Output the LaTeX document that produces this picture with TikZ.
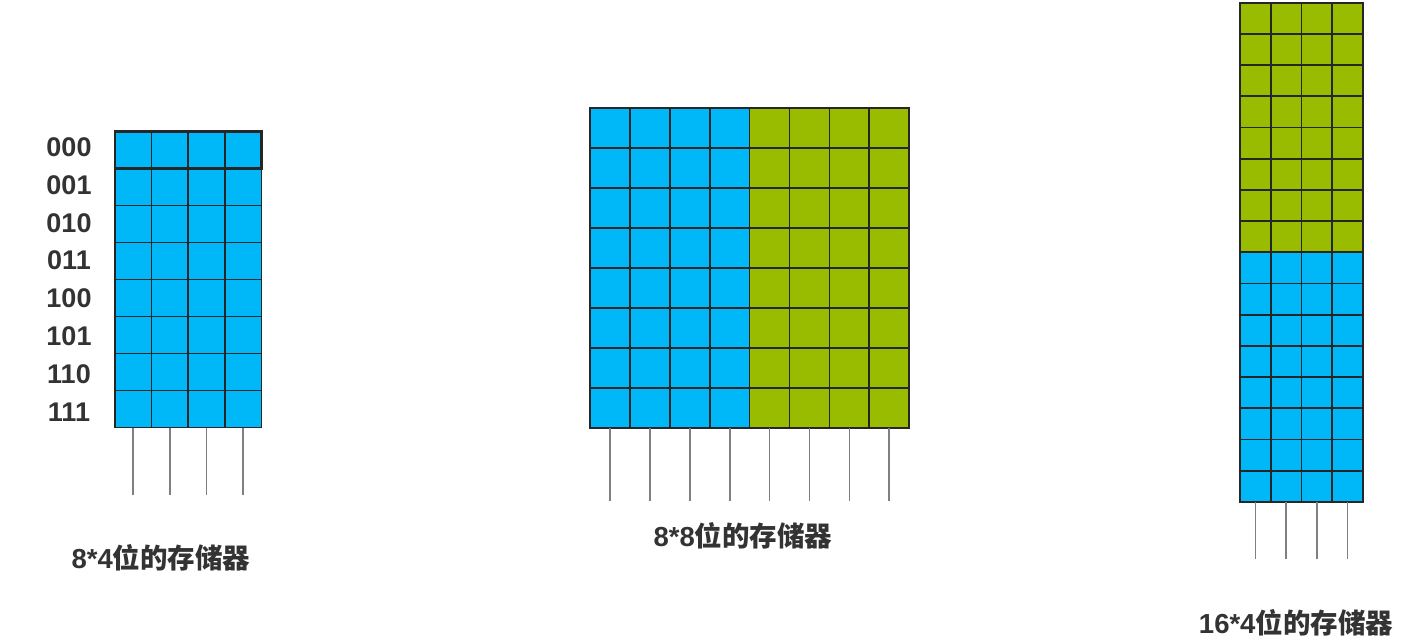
\documentclass[tikz,border=0pt]{standalone}
\usepackage{fontspec}
\setmainfont{Liberation Sans}
\newfontfamily\cjk{Noto Sans CJK SC}
\usetikzlibrary{positioning}
\definecolor{cellBlue}{HTML}{00B7F7}
\definecolor{cellGreen}{HTML}{99BB00}
\definecolor{txtGray}{HTML}{333333}
\newcommand{\memname}[2]{{\bfseries #1}{\cjk\bfseries #2}}

\begin{document}
\begin{tikzpicture}[x=1pt, y=-1pt,
	cell/.style={rectangle, draw=black!85, line width=1.7pt, inner sep=0pt, outer sep=0pt},
	pin/.style={draw=gray, line width=1.7pt},
	addr/.style={text=txtGray, font=\fontsize{27}{27}\selectfont\bfseries, inner sep=0pt},
	memcap/.style={text=txtGray, font=\fontsize{27.5}{27.5}\selectfont, inner sep=0pt}]
		\useasboundingbox (0,0) rectangle (1422,644);
		%-------------------------------------------------------------------------------
		% 8*4
		%-------------------------------------------------------------------------------
		\foreach \r in {1,...,8}
			\foreach \c in {1,...,4}
				\node[cell, fill=cellBlue, minimum width=36.6pt, minimum height=37pt] (a-\r-\c)
					at ({115+(\c-0.5)*36.6}, {131.5+(\r-0.5)*37}) {};
		\draw[line width=2.3pt, black!85] (a-1-1.north west) rectangle (a-1-4.south east);
		% address labels
		\foreach \a [count=\r] in {000,001,010,011,100,101,110,111}
			\node[addr] (ad-\r) at (69, {147+(\r-1)*37.9}) {\a};
		% data lines
		\foreach \c in {1,...,4}
			\draw[pin] (a-8-\c.south) -- ++(0,67);
		\node[memcap] (acap) at (161,558) {\memname{8*4}{位的存储器}};
		
		%-------------------------------------------------------------------------------
		% 8*8
		%-------------------------------------------------------------------------------
		\foreach \r in {1,...,8}
			\foreach \c in {1,...,8}{
				\ifnum\c<5 \def\fc{cellBlue}\else\def\fc{cellGreen}\fi
				\node[cell, fill=\fc, minimum width=39.9pt, minimum height=40pt] (b-\r-\c)
					at ({590+(\c-0.5)*39.9}, {108.3+(\r-0.5)*40}) {};
			}
		\draw[line width=2.3pt, black!85] (b-1-1.north west) rectangle (b-1-8.south east);
		% data lines
		\foreach \c in {1,...,8}
			\draw[pin] (b-8-\c.south) -- ++(0,73);
		\node[memcap] (bcap) at (743,536) {\memname{8*8}{位的存储器}};
		
		%-------------------------------------------------------------------------------
		% 16*4
		%-------------------------------------------------------------------------------
		\foreach \r in {1,...,16}
			\foreach \c in {1,...,4}{
				\ifnum\r<9 \def\fc{cellGreen}\else\def\fc{cellBlue}\fi
				\node[cell, fill=\fc, minimum width=30.7pt, minimum height=31.2pt] (c-\r-\c)
					at ({1240+(\c-0.5)*30.7}, {2.7+(\r-0.5)*31.2}) {};
			}
		% data lines
		\foreach \c in {1,...,4}
			\draw[pin] (c-16-\c.south) -- ++(0,57);
		\node[memcap] (ccap) at (1296,623) {\memname{16*4}{位的存储器}};
\end{tikzpicture}
\end{document}
